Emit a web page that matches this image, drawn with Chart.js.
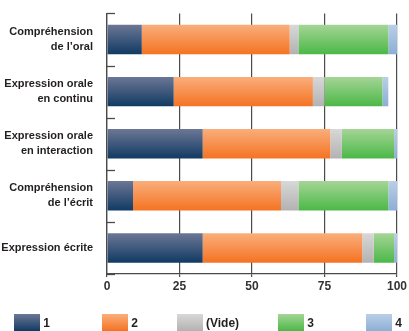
<!DOCTYPE html>
<html>
<head>
<meta charset="utf-8">
<script src="https://cdn.jsdelivr.net/npm/chart.js@4"></script>
<style>
  html, body { margin: 0; padding: 0; background: #fff; }
  #wrap { position: relative; width: 409px; height: 331px; overflow: hidden; }
  #legend {
    position: absolute; left: -12px; top: 314px; display: flex;
    font: bold 12px "Liberation Sans", Arial, sans-serif;
    color: #231f20;
  }
  .item { width: 88px; display: flex; justify-content: center; align-items: flex-start; }
  .box { width: 26px; height: 17px; margin-right: 3px; }
  .lbl { line-height: 14px; margin-top: 2px; }
</style>
</head>
<body>
<div id="wrap">
  <canvas id="c" width="409" height="331"></canvas>
  <div id="legend"></div>
</div>
<script>
"use strict";

/* ── data ─────────────────────────────────────────────────────────────── */
const categories = [
  ["Compréhension", "de l’oral"],
  ["Expression orale", "en continu"],
  ["Expression orale", "en interaction"],
  ["Compréhension", "de l’écrit"],
  "Expression écrite",
];
const seriesNames = ["1", "2", "(Vide)", "3", "4"];
const serie1 = [12, 23, 33, 9, 33];
const serie2 = [51, 48, 44, 51, 55];
const vide   = [3, 4, 4, 6, 4];
const serie3 = [31, 20, 18, 31, 7];
const serie4 = [3, 2, 1.5, 3, 1.5];
const xTicks = [0, 25, 50, 75, 100];

/* ── styles ───────────────────────────────────────────────────────────── */
const COLORS = [
  ["#6c7795", "#113a63"],
  ["#faae7c", "#f47322"],
  ["#d8d8d8", "#b2b2b2"],
  ["#a5d596", "#4bb847"],
  ["#bacfe7", "#8caed6"],
];
const FONT = "'Liberation Sans',Arial,sans-serif";
const AXIS = "#4a4a4a";
const BAR_PCT = 0.565;

function gradFill(top, bottom) {
  return (ctx) => {
    const chart = ctx.chart;
    const y = chart.scales && chart.scales.y;
    if (!chart.chartArea || !y || ctx.type !== "data") return bottom;
    const c = y.getPixelForValue(ctx.dataIndex);
    const half = (y.height / categories.length) * BAR_PCT / 2;
    const g = chart.ctx.createLinearGradient(0, c - half, 0, c + half);
    g.addColorStop(0, top);
    g.addColorStop(1, bottom);
    return g;
  };
}

const values = [serie1, serie2, vide, serie3, serie4];
const datasets = seriesNames.map((name, i) => ({
  label: name,
  data: values[i],
  backgroundColor: gradFill(COLORS[i][0], COLORS[i][1]),
  borderWidth: 0,
  barPercentage: BAR_PCT,
  categoryPercentage: 1,
}));

/* small inner ticks on the category axis */
const catTicks = {
  id: "catTicks",
  afterDatasetsDraw(chart) {
    const { ctx, scales: { y } } = chart;
    ctx.save();
    ctx.strokeStyle = AXIS;
    ctx.lineWidth = 1.3;
    for (let i = 0; i <= categories.length; i++) {
      const py = Math.round(y.getPixelForValue(i - 0.5)) + 0.5;
      ctx.beginPath();
      ctx.moveTo(y.right, py);
      ctx.lineTo(y.right + 8, py);
      ctx.stroke();
    }
    ctx.restore();
  },
};

new Chart(document.getElementById("c"), {
  type: "bar",
  data: { labels: categories, datasets },
  plugins: [catTicks],
  options: {
    indexAxis: "y",
    responsive: false,
    animation: false,
    events: [],
    layout: { autoPadding: false, padding: { top: 13, right: 8, left: 0, bottom: 0 } },
    plugins: { legend: { display: false }, tooltip: { enabled: false } },
    scales: {
      x: {
        stacked: true, min: 0, max: 100,
        afterBuildTicks: (s) => { s.ticks = xTicks.map((v) => ({ value: v })); },
        afterFit: (s) => { s.height = 57; },
        grid: { color: AXIS, lineWidth: 1.2, tickLength: 3 },
        border: { display: true, color: AXIS, width: 1.3 },
        ticks: { color: "#333", padding: 2, font: { family: FONT, size: 12, weight: "bold" } },
      },
      y: {
        stacked: true,
        afterFit: (s) => { s.width = 107; },
        grid: { display: false },
        border: { display: true, color: AXIS, width: 1.3 },
        ticks: { color: "#231f20", padding: 6, font: { family: FONT, size: 11, weight: "bold", lineHeight: 1.35 } },
      },
    },
  },
});

/* legend */
const leg = document.getElementById("legend");
seriesNames.forEach((name, i) => {
  const it = document.createElement("div");
  it.className = "item";
  it.innerHTML = `<div class="box" style="background:linear-gradient(${COLORS[i][0]},${COLORS[i][1]})"></div><span class="lbl">${name}</span>`;
  leg.appendChild(it);
});
</script>
</body>
</html>
